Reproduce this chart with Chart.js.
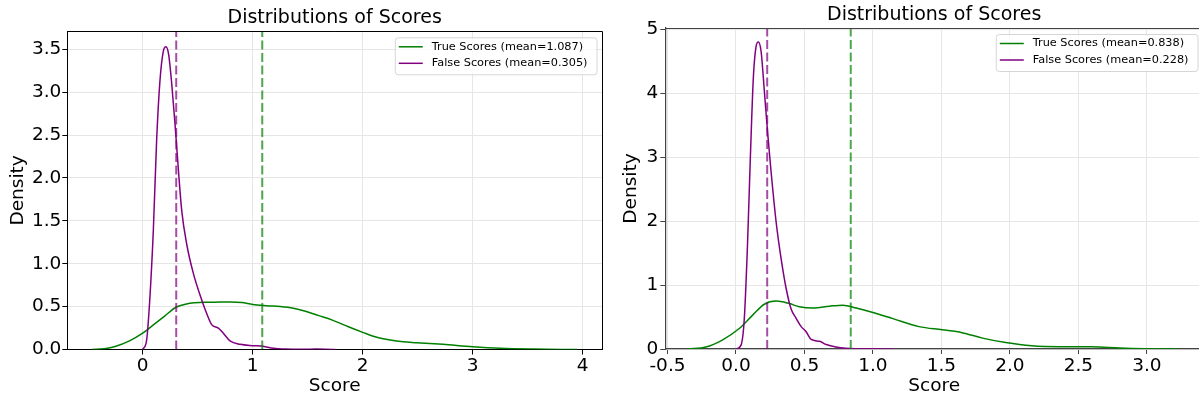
<!DOCTYPE html>
<html>
<head>
<meta charset="utf-8">
<title>Distributions of Scores</title>
<script src="https://cdn.jsdelivr.net/npm/chart.js@4.4.0/dist/chart.umd.min.js"></script>
<style>
  html, body { margin: 0; padding: 0; background: #fff; overflow: hidden; }
  #wrap { position: relative; width: 1199px; height: 400px; overflow: hidden; }
  .panel { position: absolute; top: 0; }
  #leftPanel { left: 0; }
  #rightPanel { left: 600px; }
</style>
</head>
<body>
<div id="wrap">
  <div class="panel" id="leftPanel"><canvas id="leftChart" width="612" height="400"></canvas></div>
  <div class="panel" id="rightPanel"><canvas id="rightChart" width="620" height="400"></canvas></div>
</div>
<script>
// =========================
// Left panel data
// =========================
const leftTrueX = [-0.46, -0.35, -0.25, -0.12, 0.0, 0.1, 0.2, 0.3, 0.43, 0.55, 0.65, 0.8, 0.9, 1.0, 1.13, 1.25, 1.37, 1.48, 1.6, 1.73, 1.87, 2.0, 2.12, 2.25, 2.37, 2.49, 2.73, 3.0, 3.25, 3.55, 3.8, 3.95];
const leftTrueY = [0, 0.01, 0.035, 0.1, 0.19, 0.29, 0.39, 0.49, 0.54, 0.55, 0.552, 0.555, 0.548, 0.525, 0.51, 0.5, 0.48, 0.445, 0.395, 0.34, 0.265, 0.2, 0.145, 0.11, 0.09, 0.08, 0.06, 0.033, 0.015, 0.005, 0.001, 0];
const leftFalseX = [0.0, 0.036, 0.066, 0.097, 0.127, 0.157, 0.188, 0.212, 0.236, 0.264, 0.294, 0.325, 0.355, 0.4, 0.46, 0.536, 0.582, 0.627, 0.688, 0.733, 0.794, 0.885, 1.0, 1.08, 1.19, 1.3, 1.45, 1.58, 1.66, 1.75];
const leftFalseY = [0, 0.11, 0.61, 1.39, 2.44, 3.13, 3.48, 3.53, 3.44, 3.1, 2.63, 2.09, 1.62, 1.23, 0.89, 0.58, 0.42, 0.29, 0.25, 0.19, 0.1, 0.06, 0.045, 0.04, 0.015, 0.005, 0.002, 0.005, 0.004, 0];
const leftTrueMean = 1.087;
const leftFalseMean = 0.305;
const leftXTicks = [0, 1, 2, 3, 4];
const leftXLabels = ["0", "1", "2", "3", "4"];
const leftYTicks = [0, 0.5, 1, 1.5, 2, 2.5, 3, 3.5];
const leftYLabels = ["0.0", "0.5", "1.0", "1.5", "2.0", "2.5", "3.0", "3.5"];
const leftXRange = [-0.685, 4.175];
const leftYRange = [0, 3.71];

// =========================
// Right panel data
// =========================
const rightTrueX = [-0.35, -0.22, -0.1, 0.024, 0.122, 0.207, 0.293, 0.39, 0.463, 0.561, 0.683, 0.78, 0.878, 1.0, 1.146, 1.336, 1.506, 1.65, 1.8, 1.97, 2.16, 2.36, 2.6, 2.8, 2.99, 3.23];
const rightTrueY = [0, 0.03, 0.14, 0.32, 0.53, 0.7, 0.75, 0.71, 0.66, 0.64, 0.67, 0.686, 0.64, 0.57, 0.475, 0.35, 0.3, 0.255, 0.17, 0.1, 0.05, 0.036, 0.036, 0.016, 0.005, 0];
const rightFalseX = [0.0, 0.037, 0.061, 0.085, 0.105, 0.127, 0.146, 0.163, 0.183, 0.207, 0.232, 0.256, 0.293, 0.329, 0.366, 0.402, 0.439, 0.476, 0.512, 0.549, 0.61, 0.659, 0.73, 0.8, 0.9, 1.0, 1.15];
const rightFalseY = [0, 0.06, 0.48, 1.68, 2.99, 4.25, 4.72, 4.8, 4.66, 4.04, 3.36, 2.78, 1.99, 1.42, 0.95, 0.63, 0.48, 0.35, 0.27, 0.15, 0.12, 0.07, 0.03, 0.01, 0.004, 0.002, 0];
const rightTrueMean = 0.838;
const rightFalseMean = 0.228;
const rightXTicks = [-0.5, 0, 0.5, 1, 1.5, 2, 2.5, 3];
const rightXLabels = ["-0.5", "0.0", "0.5", "1.0", "1.5", "2.0", "2.5", "3.0"];
const rightYTicks = [0, 1, 2, 3, 4, 5];
const rightYLabels = ["0", "1", "2", "3", "4", "5"];
const rightXRange = [-0.516, 3.41];
const rightYRange = [0, 5.02];

const FONT = "'DejaVu Sans', sans-serif";
const GREEN = "#008000";
const PURPLE = "#800080";

const pts = (xs, ys) => xs.map((x, i) => ({ x, y: ys[i] }));

// =========================
// Plugins: box frame + matplotlib-like legend
// =========================
const frameBox = {
  id: "frameBox",
  afterDatasetsDraw(chart, args, opts) {
    const { ctx, chartArea: a } = chart;
    ctx.save();
    ctx.strokeStyle = opts.color || "#000";
    ctx.lineWidth = opts.width || 1;
    const t = Math.round(a.top) + 0.5;
    const r = Math.round(a.right) + 0.5;
    ctx.beginPath();
    ctx.moveTo(a.left, t);
    ctx.lineTo(r, t);
    ctx.lineTo(r, a.bottom);
    ctx.stroke();
    ctx.restore();
  },
};

const cornerLegend = {
  id: "cornerLegend",
  afterDraw(chart, args, opts) {
    const { ctx, chartArea: a } = chart;
    const items = chart.data.datasets.filter((d) => d.inLegend);
    ctx.save();
    ctx.font = `${opts.fontSize}px ${FONT}`;
    const textW = Math.max(...items.map((d) => ctx.measureText(d.label).width));
    const w = 4 + 24 + 9 + textW + 9;
    const h = 37;
    const x = a.right - opts.inset - w;
    const y = a.top + 6;

    ctx.beginPath();
    ctx.roundRect(x + 0.5, y + 0.5, w, h, 3);
    ctx.fillStyle = "rgba(255,255,255,0.8)";
    ctx.fill();
    ctx.strokeStyle = "#d6d6d6";
    ctx.lineWidth = 1;
    ctx.stroke();

    items.forEach((d, i) => {
      const cy = y + 9.5 + i * 16.5;
      ctx.strokeStyle = d.borderColor;
      ctx.lineWidth = 1.5;
      ctx.beginPath();
      ctx.moveTo(x + 4, cy);
      ctx.lineTo(x + 28, cy);
      ctx.stroke();
      ctx.fillStyle = "#000";
      ctx.textBaseline = "middle";
      ctx.textAlign = "left";
      ctx.fillText(d.label, x + 37, cy);
    });
    ctx.restore();
  },
};

// =========================
// Chart factory
// =========================
function densityChart(canvasId, p) {
  const kde = (label, xs, ys, color, order) => ({
    label,
    data: pts(xs, ys),
    borderColor: color,
    borderWidth: 1.5,
    pointRadius: 0,
    cubicInterpolationMode: "monotone",
    fill: false,
    order,
    inLegend: true,
  });
  const meanLine = (mean, color) => ({
    label: "",
    data: [{ x: mean, y: p.yRange[0] }, { x: mean, y: p.yRange[1] }],
    borderColor: color,
    borderWidth: 2,
    borderDash: [9, 3.5],
    pointRadius: 0,
    fill: false,
    order: 0,
  });
  const grid = {
    color: "#e6e6e6",
    lineWidth: 1,
    tickLength: 5,
    tickColor: p.axisColor,
    tickWidth: 1,
  };
  const border = { display: true, color: p.axisColor, width: p.axisWidth };

  return new Chart(document.getElementById(canvasId), {
    type: "line",
    data: {
      datasets: [
        kde(`True Scores (mean=${p.trueMean.toFixed(3)})`, p.trueX, p.trueY, GREEN, 2),
        kde(`False Scores (mean=${p.falseMean.toFixed(3)})`, p.falseX, p.falseY, PURPLE, 1),
        meanLine(p.trueMean, "rgba(0,128,0,0.7)"),
        meanLine(p.falseMean, "rgba(128,0,128,0.7)"),
      ],
    },
    options: {
      responsive: false,
      animation: false,
      devicePixelRatio: 1,
      events: [],
      layout: { padding: { top: 0, right: p.padRight, bottom: 0, left: 0 } },
      plugins: {
        legend: { display: false },
        tooltip: { enabled: false },
        title: {
          display: true,
          fullSize: false,
          text: "Distributions of Scores",
          color: "#000",
          font: { family: FONT, size: 19, weight: "normal" },
          padding: { top: p.titleTop, bottom: 1.5 },
        },
        frameBox: { color: p.axisColor, width: p.axisWidth },
        cornerLegend: { fontSize: 11.3, inset: 5.5 },
      },
      scales: {
        x: {
          type: "linear",
          min: p.xRange[0],
          max: p.xRange[1],
          afterBuildTicks: (axis) => {
            axis.ticks = p.xTicks.map((v) => ({ value: v }));
          },
          afterFit: (axis) => {
            axis.height = p.xAxisHeight;
          },
          ticks: {
            callback: (v, i) => p.xLabels[i],
            color: "#000",
            font: { family: FONT, size: 18.5 },
            padding: 1,
            autoSkip: false,
            maxRotation: 0,
          },
          grid,
          border,
          title: {
            display: true,
            text: "Score",
            color: "#000",
            font: { family: FONT, size: 18.5 },
            padding: { top: 0, bottom: 3 },
          },
        },
        y: {
          type: "linear",
          min: p.yRange[0],
          max: p.yRange[1],
          afterBuildTicks: (axis) => {
            axis.ticks = p.yTicks.map((v) => ({ value: v }));
          },
          afterFit: (axis) => {
            axis.width = p.yAxisWidth;
          },
          ticks: {
            callback: (v, i) => p.yLabels[i],
            color: "#000",
            font: { family: FONT, size: 18.5 },
            padding: p.yTickPad,
            autoSkip: false,
          },
          grid,
          border,
          title: {
            display: true,
            text: "Density",
            color: "#000",
            font: { family: FONT, size: 18.5 },
            padding: { top: p.yTitlePad, bottom: 0 },
          },
        },
      },
    },
    plugins: [frameBox, cornerLegend],
  });
}

document.addEventListener("DOMContentLoaded", () => {
  densityChart("leftChart", {
    trueX: leftTrueX, trueY: leftTrueY,
    falseX: leftFalseX, falseY: leftFalseY,
    trueMean: leftTrueMean, falseMean: leftFalseMean,
    xTicks: leftXTicks, xLabels: leftXLabels,
    yTicks: leftYTicks, yLabels: leftYLabels,
    xRange: leftXRange, yRange: leftYRange,
    padRight: 10, titleTop: 7, xAxisHeight: 50.5, yAxisWidth: 67.3,
    yTickPad: 1, yTitlePad: 7, axisColor: "#000", axisWidth: 1,
  });

  densityChart("rightChart", {
    trueX: rightTrueX, trueY: rightTrueY,
    falseX: rightFalseX, falseY: rightFalseY,
    trueMean: rightTrueMean, falseMean: rightFalseMean,
    xTicks: rightXTicks, xLabels: rightXLabels,
    yTicks: rightYTicks, yLabels: rightYLabels,
    xRange: rightXRange, yRange: rightYRange,
    padRight: 17, titleTop: 3.7, xAxisHeight: 51, yAxisWidth: 65.3,
    yTickPad: 2, yTitlePad: 20, axisColor: "#444", axisWidth: 1.2,
  });
});
</script>
</body>
</html>
